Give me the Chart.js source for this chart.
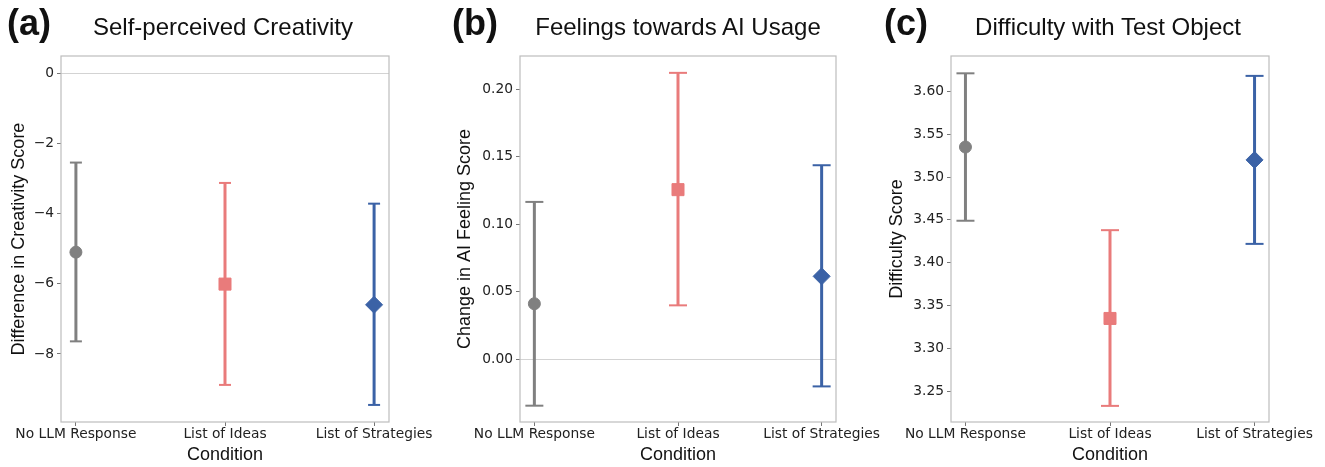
<!DOCTYPE html>
<html lang="en">
<head>
    <meta charset="UTF-8">
    <title>Condition comparison</title>
    <style>
        body { margin: 0; background: #fff; }
        #wrap { position: relative; width: 1325px; height: 467px; overflow: hidden; font-family: "Liberation Sans", Arial, sans-serif; }
        .panel { position: absolute; top: 0; }
        .letter { position: absolute; top: 5px; font-size: 36px; line-height: 36px; font-weight: bold; color: #111; }
        .title { position: absolute; top: 15px; font-size: 24px; line-height: 24px; color: #111; text-align: center; white-space: nowrap; }
    </style>
    <script src="https://cdn.jsdelivr.net/npm/chart.js"></script>
</head>
<body>
<div id="wrap">
    <div class="panel" style="left:0"><canvas id="chartA" width="445" height="467"></canvas></div>
    <div class="panel" style="left:445px"><canvas id="chartB" width="435" height="467"></canvas></div>
    <div class="panel" style="left:880px"><canvas id="chartC" width="445" height="467"></canvas></div>

    <div class="letter" style="left:7px">(a)</div>
    <div class="title" style="left:59px;width:328px">Self-perceived Creativity</div>
    <div class="letter" style="left:452px">(b)</div>
    <div class="title" style="left:520px;width:316px">Feelings towards AI Usage</div>
    <div class="letter" style="left:884px">(c)</div>
    <div class="title" style="left:949px;width:318px">Difficulty with Test Object</div>
</div>

<script>
    // data
    const conditions = ['No LLM Response', 'List of Ideas', 'List of Strategies'];
    const conditionColors = ['#808080', '#e97b7b', '#3b62a6'];
    const markerStyles = ['circle', 'rect', 'rectRot'];
    const markerSizes = [6, 8.5, 8.5];

    const creativityMean = [-5.10, -6.01, -6.60];
    const creativityLow = [-7.64, -8.88, -9.45];
    const creativityHigh = [-2.55, -3.13, -3.72];
    const creativityTicks = [0, -2, -4, -6, -8];

    const feelingMean = [0.041, 0.1256, 0.0613];
    const feelingLow = [-0.0346, 0.0398, -0.0203];
    const feelingHigh = [0.1165, 0.2122, 0.1437];
    const feelingTicks = [0, 0.05, 0.10, 0.15, 0.20];

    const difficultyMean = [3.535, 3.335, 3.520];
    const difficultyLow = [3.449, 3.233, 3.422];
    const difficultyHigh = [3.621, 3.438, 3.618];
    const difficultyTicks = [3.25, 3.30, 3.35, 3.40, 3.45, 3.50, 3.55, 3.60];

    const tickFont = { family: "'DejaVu Sans', sans-serif", size: 13.8 };
    const titleFont = { family: "'Liberation Sans', Arial, sans-serif", size: 18 };

    const framePlugin = {
        id: 'frame',
        beforeDatasetsDraw(chart) {
            const a = chart.chartArea;
            const ctx = chart.ctx;
            ctx.save();
            ctx.strokeStyle = '#bdbdbd';
            ctx.lineWidth = 1.2;
            ctx.strokeRect(a.left, a.top, a.right - a.left, a.bottom - a.top);
            ctx.restore();
        }
    };

    function buildPanel(id, cfg) {
        const datasets = [];
        conditions.forEach((c, i) => {
            datasets.push({
                type: 'line',
                label: c + ' CI',
                data: [{ x: i, y: cfg.low[i] }, { x: i, y: cfg.high[i] }],
                borderColor: conditionColors[i],
                borderWidth: 3,
                pointStyle: 'line',
                pointRadius: cfg.cap,
                pointBorderWidth: 2,
                pointBorderColor: conditionColors[i],
                order: 2
            });
        });
        datasets.push({
            type: 'scatter',
            label: 'mean',
            data: cfg.mean.map((m, i) => ({ x: i, y: m })),
            pointStyle: markerStyles,
            pointRadius: markerSizes,
            pointBackgroundColor: conditionColors,
            pointBorderColor: conditionColors,
            pointBorderWidth: 1,
            order: 1
        });

        new Chart(document.getElementById(id), {
            type: 'scatter',
            data: { datasets: datasets },
            options: {
                responsive: false,
                animation: false,
                events: [],
                layout: { padding: { top: 56, right: cfg.padRight, bottom: 0, left: 0 } },
                plugins: { legend: { display: false }, tooltip: { enabled: false } },
                scales: {
                    x: {
                        type: 'linear',
                        min: -0.1,
                        max: 2.1,
                        afterBuildTicks: s => { s.ticks = [0, 1, 2].map(v => ({ value: v })); },
                        afterFit: s => { s.height = 45; s.paddingLeft = 0; s.paddingRight = 0; },
                        ticks: {
                            callback: v => conditions[v],
                            font: tickFont,
                            color: '#222',
                            padding: 0,
                            maxRotation: 0,
                            autoSkip: false
                        },
                        grid: { drawOnChartArea: false, tickLength: 4, tickColor: '#777' },
                        border: { display: false },
                        title: { display: true, text: 'Condition', font: titleFont, color: '#111', padding: { top: 0, bottom: 1 } }
                    },
                    y: {
                        min: cfg.min,
                        max: cfg.max,
                        afterBuildTicks: s => { s.ticks = cfg.ticks.map(v => ({ value: v })); },
                        afterFit: s => { s.width = cfg.axisWidth; s.paddingTop = 0; s.paddingBottom = 0; },
                        ticks: {
                            callback: cfg.format,
                            font: tickFont,
                            color: '#222',
                            padding: 3
                        },
                        grid: {
                            color: ctx => (cfg.zeroLine && ctx.tick && ctx.tick.value === 0) ? '#d3d3d3' : 'rgba(0,0,0,0)',
                            lineWidth: 1,
                            tickLength: 4,
                            tickColor: '#777'
                        },
                        border: { display: false },
                        title: { display: true, text: cfg.yTitle, font: titleFont, color: '#111', padding: { top: cfg.titlePad, bottom: 0 } }
                    }
                }
            },
            plugins: [framePlugin]
        });
    }

    buildPanel('chartA', {
        mean: creativityMean, low: creativityLow, high: creativityHigh, ticks: creativityTicks,
        min: -9.936, max: 0.484, zeroLine: true, cap: 6,
        format: v => (v < 0 ? '\u2212' + Math.abs(v) : String(v)),
        yTitle: 'Difference in Creativity Score',
        axisWidth: 61, padRight: 56, titlePad: 8
    });

    buildPanel('chartB', {
        mean: feelingMean, low: feelingLow, high: feelingHigh, ticks: feelingTicks,
        min: -0.0467, max: 0.2247, zeroLine: true, cap: 9,
        format: v => v.toFixed(2),
        yTitle: 'Change in AI Feeling Score',
        axisWidth: 75, padRight: 44, titlePad: 9
    });

    buildPanel('chartC', {
        mean: difficultyMean, low: difficultyLow, high: difficultyHigh, ticks: difficultyTicks,
        min: 3.2142, max: 3.6412, zeroLine: false, cap: 9,
        format: v => v.toFixed(2),
        yTitle: 'Difficulty Score',
        axisWidth: 71, padRight: 56, titlePad: 6.5
    });
</script>
</body>
</html>
